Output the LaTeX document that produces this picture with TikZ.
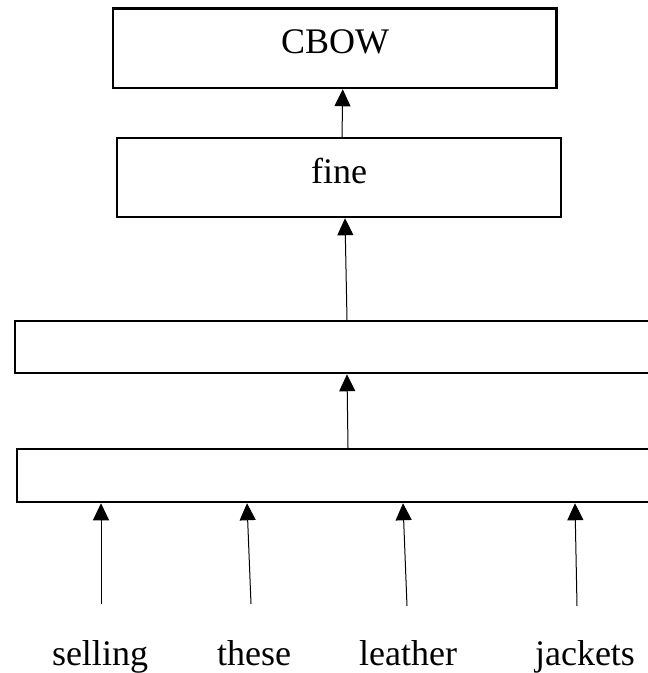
\documentclass[tikz,border=0pt]{standalone}
\usepackage{fontspec}
\setmainfont{Liberation Serif}
\usetikzlibrary{arrows.meta}
\tikzset{
  layerbox/.style={draw,line width=2.5pt,inner sep=0pt},
  wordtext/.style={font=\fontsize{36}{40}\selectfont,inner sep=0pt,anchor=base},
  uparrow/.style={line width=1pt,-{Triangle[width=16pt,length=17pt]}}
}
\begin{document}
\begin{tikzpicture}[x=1pt,y=-1pt]
\useasboundingbox (0,0) rectangle (648,673);
\clip (0,0) rectangle (648,673);
\node[layerbox,minimum width=443.5pt,minimum height=79.5pt] (cbow) at (334.75,48.25) {};
\node[layerbox,minimum width=444pt,minimum height=79pt] (fine) at (339,177.5) {};
\node[layerbox,minimum width=660pt,minimum height=52pt] (hidden) at (345,347) {};
\node[layerbox,minimum width=658pt,minimum height=53pt] (embed) at (346,475.5) {};
\node[wordtext] (cbowtxt) at (335,53) {CBOW};
\node[wordtext] (finetxt) at (339,183) {fine};
\node[wordtext] (selling) at (100,665) {selling};
\node[wordtext] (these) at (254,665) {these};
\node[wordtext] (leather) at (408,665) {leather};
\node[wordtext] (jackets) at (585,665) {jackets};
\coordinate (s1) at (101,604);
\coordinate (s2) at (251,604);
\coordinate (s3) at (407,606);
\coordinate (s4) at (577,606);
\draw[uparrow] ([xshift=3pt]fine.north) -- ([xshift=8pt]cbow.south);
\draw[uparrow] ([xshift=2pt]hidden.north) -- ([xshift=6pt]fine.south);
\draw[uparrow] ([xshift=2pt]embed.north) -- ([xshift=2pt]hidden.south);
\draw[uparrow] (s1) -- ([xshift=-245pt]embed.south);
\draw[uparrow] (s2) -- ([xshift=-99pt]embed.south);
\draw[uparrow] (s3) -- ([xshift=57pt]embed.south);
\draw[uparrow] (s4) -- ([xshift=229pt]embed.south);
\end{tikzpicture}
\end{document}
